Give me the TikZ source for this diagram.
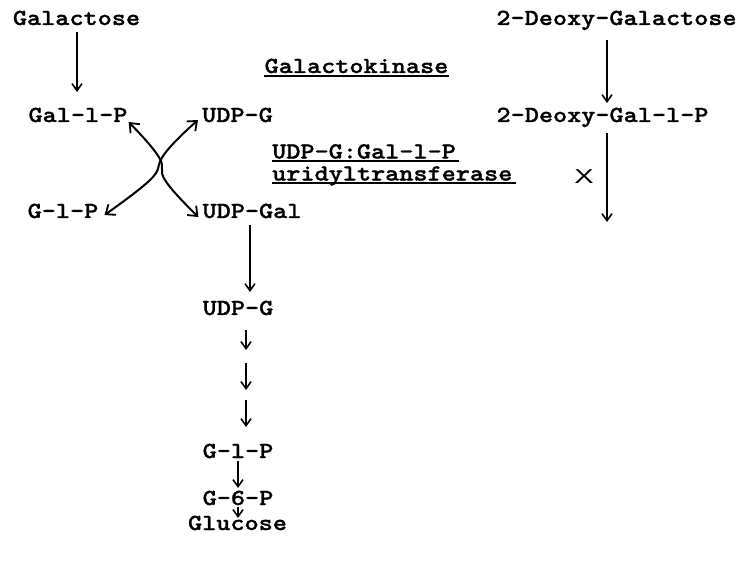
\documentclass[tikz,border=0pt]{standalone}
\usepackage{fontspec}
\newfontfamily\tw{lmmonolt10-bold.otf}[FakeStretch=1.17, FakeBold=1.2]
\newfontfamily\xsans{Liberation Sans}
\usetikzlibrary{arrows.meta,calc}
\tikzset{
  lbl/.style={font=\tw\fontsize{23}{22}\selectfont, inner sep=0pt, anchor=base},
  arr/.style={line width=1.8pt, -{Straight Barb[length=7pt,width=10pt,line width=1.6pt]}},
  thinarr/.style={arr, line width=1.4pt},
  both/.style={line width=2pt, {Straight Barb[length=8pt,width=13pt,line width=1.8pt]}-{Straight Barb[length=8pt,width=13pt,line width=1.8pt]}},
  uline/.style={line width=1.6pt}
}
\begin{document}
\begin{tikzpicture}[x=1pt, y=-1pt]
\useasboundingbox (0,0) rectangle (745,564);

% galactose branch
\node[lbl] (gal)    at (76.5,25)  {Galactose};
\node[lbl] (gal1p)  at (78,122)   {Gal-l-P};
\node[lbl] (udpgA)  at (237.5,122) {UDP-G};
\node[lbl] (g1pA)   at (63,218)   {G-l-P};
\node[lbl] (udpgal) at (252,218)  {UDP-Gal};

% enzyme labels (underlines sit just under the baselines)
\node[lbl] (kin) at (356.5,73) {Galactokinase};
\draw[uline] ($(kin.base west)+(0,3)$) -- ($(kin.base east)+(0,3)$);
\node[lbl, anchor=north west, align=left] (tr) at (272,144) {UDP-G:Gal-l-P\\uridyltransferase};
\coordinate (trl1) at ($(tr.north west)+(0,17)$);
\draw[uline] (trl1) -- ($(trl1)+(186.5,0)$);
\draw[uline] ($(trl1)+(0,22)$) -- ($(trl1)+(243.5,22)$);

% 2-deoxy branch
\node[lbl] (dgal)   at (616.5,25) {2-Deoxy-Galactose};
\node[lbl] (dgal1p) at (602.5,122) {2-Deoxy-Gal-l-P};
\node[font=\xsans\fontsize{20}{20}\selectfont, inner sep=0pt, anchor=base] (blk) at (584,184) {\scalebox{1.45}[1]{X}};
\coordinate (dend) at (607,222);

% lower chain
\node[lbl] (udpgB) at (238,315) {UDP-G};
\node[lbl] (g1pB)  at (238,458) {G-l-P};
\node[lbl] (g6p)   at (238,505) {G-6-P};
\node[lbl] (glc)   at (237.5,530) {Glucose};
\coordinate (s1) at (246,350);
\coordinate (s2a) at (246,363);
\coordinate (s2b) at (246,390);

% straight arrows
\draw[arr] ($(gal.base)+(0.5,7)$) -- ($(gal1p.base)+(-1,-30)$);
\draw[thinarr] ($(dgal.base)+(-9.5,15)$) -- ($(dgal1p.base)+(4.5,-19)$);
\draw[thinarr] ($(dgal1p.base)+(4.5,11)$) -- (dend);
\draw[arr] ($(udpgal.base)+(-2,7)$) -- ($(udpgB.base)+(12,-23)$);
\draw[arr] ($(udpgB.base)+(8,15)$) -- (s1);
\draw[arr] (s2a) -- (s2b);
\draw[arr] ($(g1pB.base)+(8,-58)$) -- ($(g1pB.base)+(8,-31)$);
\draw[arr] ($(g1pB.base)+(0,3)$) -- ($(g6p.base)+(0,-17)$);
\draw[arr] ($(g6p.base)+(0,2)$) -- ($(glc.base)+(0.5,-12)$);

% exchange between the sugar phosphates and UDP sugars
\draw[both] ($(gal1p.base east)+(1,0)$) .. controls (197,192) and (126,146) .. ($(udpgal.base west)+(-4,-1)$);
\draw[both] ($(udpgA.base west)+(-4,-2)$) .. controls (122,188) and (199,148) .. ($(g1pA.base east)+(6,-3)$);
\end{tikzpicture}
\end{document}
